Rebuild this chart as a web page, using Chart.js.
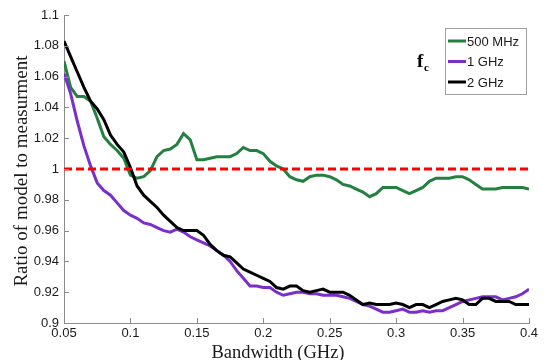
<!DOCTYPE html>
<html>
<head>
<meta charset="utf-8">
<script src="https://cdn.jsdelivr.net/npm/chart.js@4"></script>
<style>
  html, body { margin: 0; padding: 0; background: #fff; }
  #wrap { width: 548px; height: 360px; }
</style>
</head>
<body>
<div id="wrap"><canvas id="chart" width="548" height="360"></canvas></div>
<script>
// bandwidth in GHz
const bandwidth = [
  0.05, 0.055, 0.06, 0.065, 0.07, 0.075, 0.08, 0.085, 0.09, 0.095,
  0.1, 0.105, 0.11, 0.115, 0.12, 0.125, 0.13, 0.135, 0.14, 0.145,
  0.15, 0.155, 0.16, 0.165, 0.17, 0.175, 0.18, 0.185, 0.19, 0.195,
  0.2, 0.205, 0.21, 0.215, 0.22, 0.225, 0.23, 0.235, 0.24, 0.245,
  0.25, 0.255, 0.26, 0.265, 0.27, 0.275, 0.28, 0.285, 0.29, 0.295,
  0.3, 0.305, 0.31, 0.315, 0.32, 0.325, 0.33, 0.335, 0.34, 0.345,
  0.35, 0.355, 0.36, 0.365, 0.37, 0.375, 0.38, 0.385, 0.39, 0.395, 0.4
];

const ratio500MHz = [
  1.070, 1.053, 1.047, 1.047, 1.044, 1.033, 1.021, 1.016, 1.012, 1.007,
  0.996, 0.994, 0.995, 0.999, 1.008, 1.012, 1.013, 1.016, 1.023, 1.019,
  1.006, 1.006, 1.007, 1.008, 1.008, 1.008, 1.010, 1.014, 1.012, 1.012,
  1.010, 1.005, 1.002, 1.000, 0.995, 0.993, 0.992, 0.995, 0.996, 0.996,
  0.995, 0.993, 0.990, 0.989, 0.987, 0.985, 0.982, 0.984, 0.988, 0.988,
  0.988, 0.986, 0.984, 0.986, 0.988, 0.992, 0.994, 0.994, 0.994, 0.995,
  0.995, 0.993, 0.990, 0.987, 0.987, 0.987, 0.988, 0.988, 0.988, 0.988, 0.987
];

const ratio1GHz = [
  1.062, 1.049, 1.031, 1.015, 1.002, 0.991, 0.986, 0.983, 0.978, 0.973,
  0.970, 0.968, 0.965, 0.964, 0.962, 0.960, 0.959, 0.961, 0.959, 0.956,
  0.954, 0.952, 0.950, 0.947, 0.944, 0.940, 0.934, 0.929, 0.924, 0.924,
  0.923, 0.923, 0.920, 0.918, 0.919, 0.920, 0.920, 0.919, 0.919, 0.918,
  0.918, 0.918, 0.917, 0.916, 0.914, 0.912, 0.911, 0.909, 0.907, 0.907,
  0.908, 0.909, 0.907, 0.907, 0.908, 0.907, 0.908, 0.908, 0.910, 0.912,
  0.914, 0.915, 0.916, 0.917, 0.917, 0.917, 0.915, 0.916, 0.917, 0.919, 0.922
];

const ratio2GHz = [
  1.083, 1.073, 1.063, 1.053, 1.044, 1.039, 1.032, 1.022, 1.016, 1.011,
  1.001, 0.989, 0.983, 0.979, 0.975, 0.970, 0.966, 0.962, 0.960, 0.960,
  0.960, 0.957, 0.951, 0.947, 0.944, 0.943, 0.939, 0.935, 0.933, 0.931,
  0.929, 0.927, 0.923, 0.922, 0.924, 0.924, 0.921, 0.920, 0.921, 0.922,
  0.920, 0.920, 0.920, 0.918, 0.915, 0.912, 0.913, 0.912, 0.912, 0.912,
  0.913, 0.912, 0.910, 0.912, 0.912, 0.910, 0.912, 0.914, 0.915, 0.916,
  0.915, 0.912, 0.912, 0.916, 0.916, 0.914, 0.914, 0.914, 0.912, 0.912, 0.912
];

const referenceX = [0.05, 0.4];
const referenceY = [1, 1];

const xTicks = [0.05, 0.1, 0.15, 0.2, 0.25, 0.3, 0.35, 0.4];
const yTicks = [0.9, 0.92, 0.94, 0.96, 0.98, 1, 1.02, 1.04, 1.06, 1.08, 1.1];

const seriesLabels = ['500 MHz', '1 GHz', '2 GHz'];
const seriesColors = ['#23803f', '#7b2fca', '#000000'];

const pts = (xs, ys) => xs.map((x, i) => ({ x: x, y: ys[i] }));
const fmt = v => String(+v.toFixed(3));

// inward tick marks, axis titles, legend box and the f_c note
const extras = {
  id: 'extras',
  afterDraw(chart) {
    const ctx = chart.ctx;
    const a = chart.chartArea;
    const xs = chart.scales.x, ys = chart.scales.y;
    ctx.save();
    ctx.strokeStyle = '#8c8c8c';
    ctx.lineWidth = 1;
    ctx.beginPath();
    xTicks.forEach(t => {
      const px = Math.round(xs.getPixelForValue(t)) + 0.5;
      ctx.moveTo(px, a.bottom); ctx.lineTo(px, a.bottom - 5);
    });
    yTicks.forEach(t => {
      const py = Math.round(ys.getPixelForValue(t)) + 0.5;
      ctx.moveTo(a.left, py); ctx.lineTo(a.left + 5, py);
    });
    ctx.stroke();

    // axis titles
    ctx.fillStyle = '#1a1a1a';
    ctx.font = '18.5px "Liberation Serif", serif';
    ctx.textAlign = 'center';
    ctx.textBaseline = 'alphabetic';
    ctx.fillText('Bandwidth (GHz)', 278, 358);
    ctx.textBaseline = 'middle';
    ctx.font = '19px "Liberation Serif", serif';
    ctx.save();
    ctx.translate(22, (a.top + a.bottom) / 2 + 2);
    ctx.rotate(-Math.PI / 2);
    ctx.fillText('Ratio of model to measurment', 0, 0);
    ctx.restore();

    // legend
    const lx = 445, ly = 28, lw = 81, lh = 66;
    ctx.fillStyle = '#fff';
    ctx.fillRect(lx, ly, lw, lh);
    ctx.strokeStyle = '#a0a0a0';
    ctx.strokeRect(lx + 0.5, ly + 0.5, lw, lh);
    ctx.font = '13px "Liberation Sans", Arial, sans-serif';
    ctx.textAlign = 'left';
    seriesLabels.forEach((lab, i) => {
      const cy = ly + 13 + i * 20.5;
      ctx.strokeStyle = seriesColors[i];
      ctx.lineWidth = 3;
      ctx.beginPath();
      ctx.moveTo(lx + 3, cy); ctx.lineTo(lx + 21, cy);
      ctx.stroke();
      ctx.fillStyle = '#1a1a1a';
      ctx.fillText(lab, lx + 22, cy + 1);
    });

    // f_c
    ctx.fillStyle = '#000';
    ctx.font = 'bold 19px "Liberation Serif", serif';
    ctx.fillText('f', 417, 62);
    ctx.font = 'bold 11px "Liberation Serif", serif';
    ctx.fillText('c', 424, 68);
    ctx.restore();
  }
};

new Chart(document.getElementById('chart'), {
  type: 'line',
  data: {
    datasets: [
      {
        label: 'reference',
        data: pts(referenceX, referenceY),
        borderColor: '#ff0000',
        borderWidth: 3,
        borderDash: [8, 4],
        order: 0
      },
      {
        label: seriesLabels[0],
        data: pts(bandwidth, ratio500MHz),
        borderColor: seriesColors[0],
        borderWidth: 3,
        order: 3
      },
      {
        label: seriesLabels[1],
        data: pts(bandwidth, ratio1GHz),
        borderColor: seriesColors[1],
        borderWidth: 3,
        order: 2
      },
      {
        label: seriesLabels[2],
        data: pts(bandwidth, ratio2GHz),
        borderColor: seriesColors[2],
        borderWidth: 3,
        order: 1
      }
    ]
  },
  options: {
    responsive: false,
    animation: false,
    events: [],
    layout: { padding: { left: 0, top: 15, right: 19, bottom: 0 } },
    elements: { point: { radius: 0 }, line: { tension: 0, fill: false } },
    plugins: { legend: { display: false }, tooltip: { enabled: false } },
    scales: {
      x: {
        type: 'linear',
        min: 0.05, max: 0.4,
        afterBuildTicks: s => { s.ticks = xTicks.map(v => ({ value: v })); },
        afterFit: s => { s.height = 37; },
        grid: { drawOnChartArea: false, drawTicks: false },
        border: { display: true, color: '#8c8c8c', width: 1 },
        ticks: {
          padding: 3,
          color: '#1a1a1a',
          font: { family: '"Liberation Sans", Arial, sans-serif', size: 13 },
          callback: fmt,
          maxRotation: 0,
          autoSkip: false
        }
      },
      y: {
        min: 0.9, max: 1.1,
        afterBuildTicks: s => { s.ticks = yTicks.map(v => ({ value: v })); },
        afterFit: s => { s.width = 64; },
        grid: { drawOnChartArea: false, drawTicks: false },
        border: { display: true, color: '#8c8c8c', width: 1 },
        ticks: {
          padding: 5,
          color: '#1a1a1a',
          font: { family: '"Liberation Sans", Arial, sans-serif', size: 13 },
          callback: fmt,
          autoSkip: false
        }
      }
    }
  },
  plugins: [extras]
});
</script>
</body>
</html>
